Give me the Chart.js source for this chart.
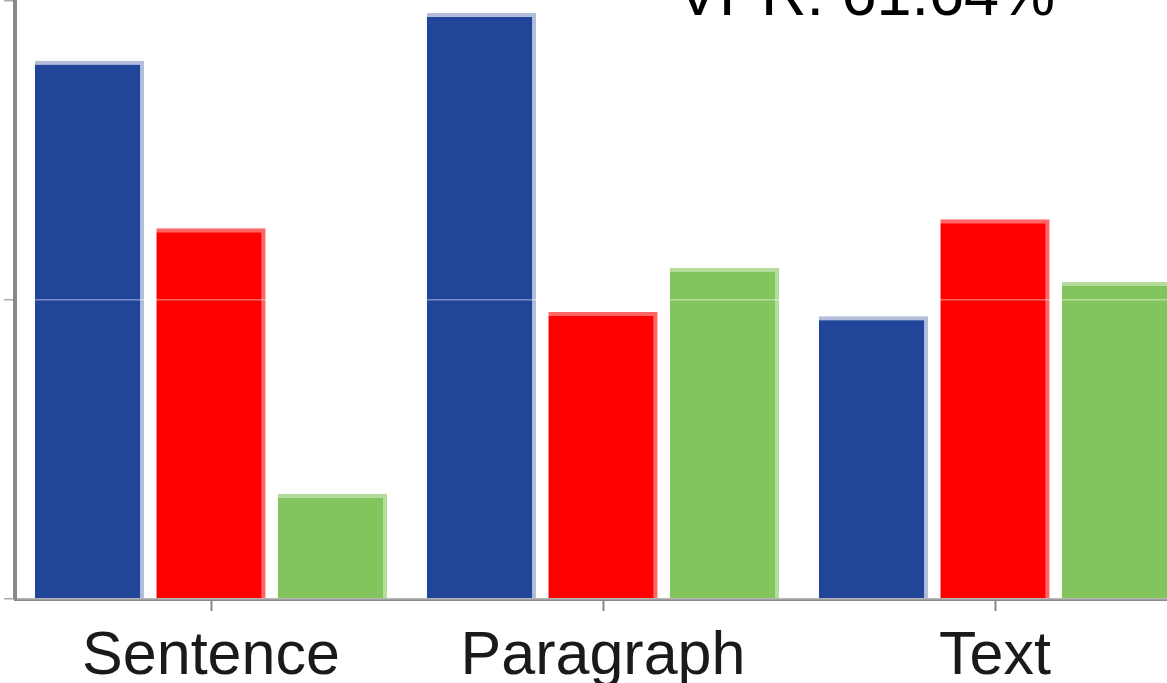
<!DOCTYPE html>
<html>
<head>
<meta charset="utf-8">
<script src="https://cdn.jsdelivr.net/npm/chart.js@4/dist/chart.umd.min.js"></script>
<style>
    body { margin: 0; background: #fff; overflow: hidden; }
    #wrap { position: relative; width: 1167px; height: 683px; overflow: hidden; }
    #chart { position: absolute; left: -100px; top: -100px; }
</style>
</head>
<body>
<div id="wrap">
    <canvas id="chart" width="1300" height="800"></canvas>
</div>
<script>
// values (0-100 scale, gridline at 50)
var categories = ['Sentence', 'Paragraph', 'Text'];
var seriesBlue = [90.0, 98.0, 47.3];
var seriesRed = [62.0, 48.0, 63.5];
var seriesGreen = [17.6, 55.4, 53.0];
var yTicks = [0, 50, 100];
var titleText = 'VPR: 61.64%';

var FONT = '"Liberation Sans", Arial, sans-serif';

// big label sitting over the top of the plot
var titlePlugin = {
    id: 'vprTitle',
    afterDraw: function (chart) {
        var ctx = chart.ctx
        ctx.save()
        ctx.font = '63px ' + FONT
        ctx.fillStyle = '#000'
        ctx.textAlign = 'center'
        ctx.textBaseline = 'alphabetic'
        ctx.fillText(titleText, 966, 115)
        ctx.restore()
    }
};

function bars(data, fill, edge) {
    return {
        data: data,
        backgroundColor: fill,
        borderColor: edge,
        borderWidth: { top: 4, right: 4, left: 0, bottom: 0 },
        borderSkipped: 'start',
        categoryPercentage: 0.93,
        barPercentage: 0.9,
    }
}

var ctx = document.getElementById('chart')
var myChart = new Chart(ctx, {
    type: 'bar',
    data: {
        labels: categories,
        datasets: [
            bars(seriesBlue, '#214598', 'rgba(33,69,152,0.35)'),
            bars(seriesRed, '#ff0000', 'rgba(255,0,0,0.6)'),
            bars(seriesGreen, '#82c55c', 'rgba(130,197,92,0.6)'),
        ]
    },
    plugins: [titlePlugin],
    options: {
        responsive: false,
        animation: false,
        layout: {
            padding: { top: 101, right: 9, left: 0, bottom: 0 }
        },
        plugins: {
            legend: { display: false },
            title: { display: false },
            tooltip: { enabled: false },
        },
        scales: {
            x: {
                afterFit: function (scale) { scale.height = 101 },
                border: { display: true, color: '#888', width: 3, z: 1 },
                grid: {
                    offset: false,
                    drawOnChartArea: false,
                    drawTicks: true,
                    tickLength: 12,
                    tickColor: '#888',
                    tickWidth: 2,
                },
                ticks: {
                    color: '#1a1a1a',
                    padding: 10,
                    font: { family: FONT, size: 61 },
                    maxRotation: 0,
                },
            },
            y: {
                min: 0,
                max: 100,
                afterFit: function (scale) { scale.width = 115 },
                afterBuildTicks: function (scale) {
                    scale.ticks = yTicks.map(v => ({ value: v }))
                },
                border: { display: true, color: '#888', width: 4, z: 1 },
                grid: {
                    z: 1,
                    color: 'rgba(255,255,255,0.4)',
                    lineWidth: 1.5,
                    drawTicks: true,
                    tickLength: 11,
                    tickColor: '#aaa',
                },
                ticks: { display: false },
            }
        },
    }
});
</script>
</body>
</html>
